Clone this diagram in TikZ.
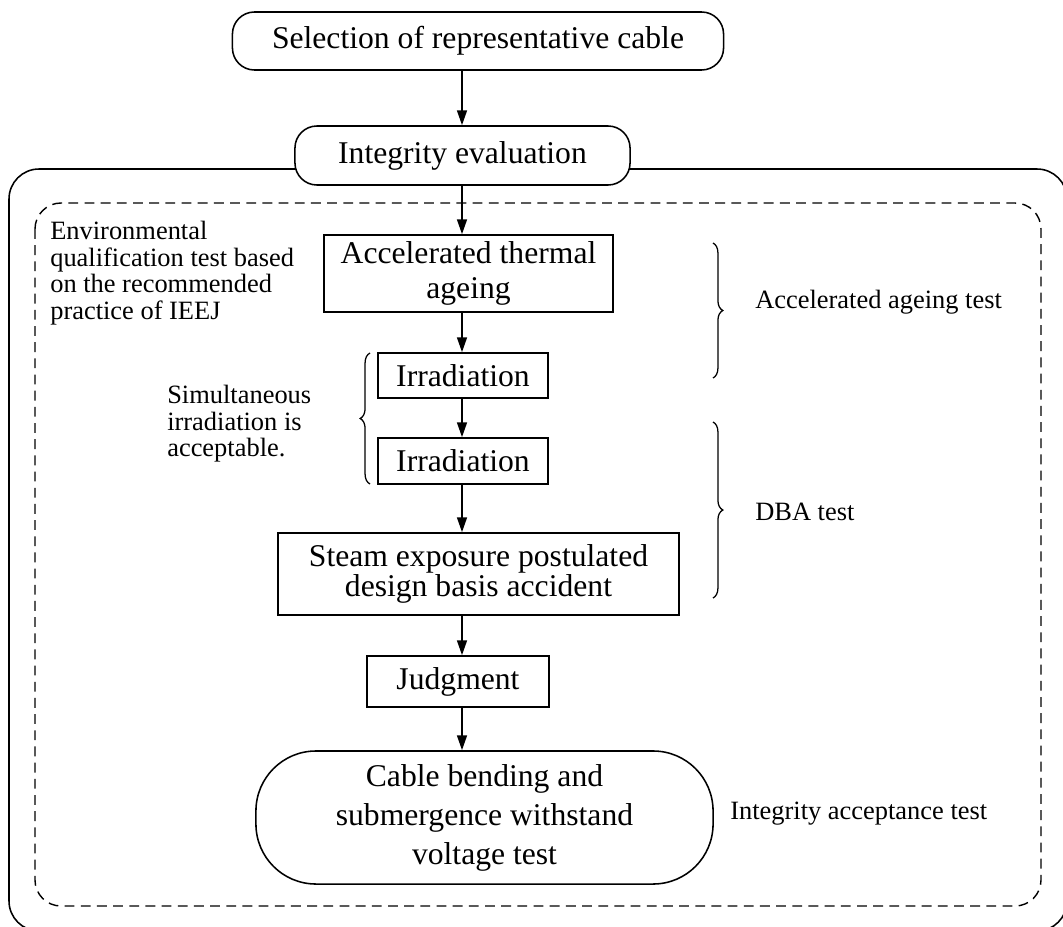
\documentclass[tikz,border=0pt]{standalone}
\usepackage{fontspec}
\setmainfont{Liberation Serif}
\usetikzlibrary{arrows.meta,decorations.pathreplacing}

\tikzset{
	box/.style={draw, fill=white, line width=1.1pt, inner sep=0pt, align=center, font=\fontsize{22.5}{25}\selectfont},
	pill/.style={box, rounded corners=0.55cm},
	note/.style={inner sep=0pt, align=left, font=\fontsize{18.8}{18.9}\selectfont},
	arr/.style={-{Triangle[length=10.5pt,width=7pt]}, line width=1.2pt},
	brc/.style={decorate, decoration={brace, amplitude=7pt}, line width=0.9pt}
}

\begin{document}
\begin{tikzpicture}[x=0.025cm, y=-0.025cm]
		\useasboundingbox (0,0) rectangle (1063,926);
		\clip (0,0) rectangle (1063,926);

		% Define the frames
		\draw[line width=1.1pt, rounded corners=0.75cm] (9,169) rectangle (1067,931);
		\draw[line width=1pt, dash pattern=on 7pt off 4.5pt, rounded corners=0.65cm] (35,203) rectangle (1041,906);

		% Define the steps
		\node[pill, minimum width=12.275cm, minimum height=1.45cm] (sel) at (478,41) {Selection of representative cable};
		\node[pill, minimum width=8.375cm, minimum height=1.475cm] (integ) at (462.5,155.5) {Integrity evaluation};
		\node[box, minimum width=7.225cm, minimum height=1.925cm] (acc) at (468.5,273.5) {Accelerated thermal\\ageing};
		\node[box, minimum width=4.25cm, minimum height=1.125cm] (irr1) at (463,375.5) {Irradiation};
		\node[box, minimum width=4.25cm, minimum height=1.15cm] (irr2) at (463,461) {Irradiation};
		\node[box, minimum width=10.025cm, minimum height=2.05cm, font=\fontsize{22.5}{18.5}\selectfont] (steam) at (478.5,574) {Steam exposure postulated\\design basis accident};
		\node[box, minimum width=4.55cm, minimum height=1.275cm] (judg) at (458,681.5) {Judgment};
		\node[box, rounded corners=1.5cm, minimum width=11.425cm, minimum height=3.325cm, font=\fontsize{22.5}{27.7}\selectfont] (cable) at (484.5,817.5) {Cable bending and\\submergence withstand\\voltage test};

		% Define the notes
		\node[note, anchor=north west] (envq) at (50,221) {Environmental\\qualification test based\\on the recommended\\practice of IEEJ};
		\node[note, anchor=north west] (simul) at (167,385) {Simultaneous\\irradiation is\\acceptable.};
		\node[note, anchor=west] (ageing) at (755,302) {Accelerated ageing test};
		\node[note, anchor=west] (dba) at (755,512) {DBA test};
		\node[note, anchor=west] (accept) at (730,814) {Integrity acceptance test};

		% Define the arrows
		\coordinate (spine) at (462,0);
		\draw[arr] (sel.south -| spine) -- (integ.north -| spine);
		\draw[arr] (integ.south -| spine) -- (acc.north -| spine);
		\draw[arr] (acc.south -| spine) -- (irr1.north -| spine);
		\draw[arr] (irr1.south -| spine) -- (irr2.north -| spine);
		\draw[arr] (irr2.south -| spine) -- (steam.north -| spine);
		\draw[arr] (steam.south -| spine) -- (judg.north -| spine);
		\draw[arr] (judg.south -| spine) -- (cable.north -| spine);

		% Braces
		\draw[brc] (713,243) -- (713,378);
		\draw[brc] (713,422) -- (713,598);
		\draw[brc] (370,484) -- (370,353);
	\end{tikzpicture}
\end{document}
